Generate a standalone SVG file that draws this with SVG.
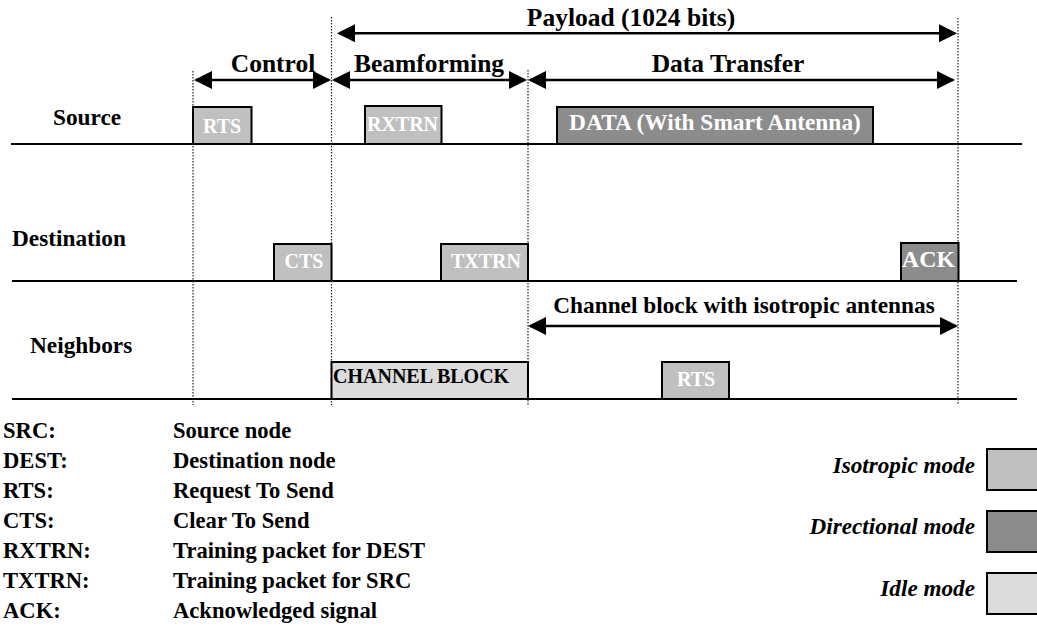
<svg xmlns="http://www.w3.org/2000/svg" width="1037" height="627" viewBox="0 0 1037 627">
<style>
  text { font-family: "Liberation Serif", "Times New Roman", serif; font-weight: bold; }
  .hdr { font-size: 25.5px; fill: #000; }
  .side { font-size: 23.3px; fill: #000; }
  .leg { font-size: 22.6px; fill: #000; }
  .mode { font-size: 23.2px; font-style: italic; fill: #000; text-anchor: end; }
  .pkt { font-size: 20px; fill: #fff; text-anchor: middle; }
  .box { stroke: #000; stroke-width: 2; }
  .iso { fill: #c0c0c0; }
  .dir { fill: #8c8c8c; }
  .idle { fill: #dcdcdc; }
  .lane { stroke: #000; stroke-width: 2; fill: none; }
  .dot { stroke: #222; stroke-width: 1.2; stroke-dasharray: 1.5 1.5; fill: none; }
  .arr { stroke: #000; stroke-width: 2.6; fill: none; marker-start: url(#ah); marker-end: url(#ah); }
</style>
<defs>
  <marker id="ah" markerUnits="userSpaceOnUse" markerWidth="18" markerHeight="18" viewBox="0 0 18 18" refX="16" refY="9" orient="auto-start-reverse">
    <path d="M0,0 L18,9 L0,18 z" fill="#000"/>
  </marker>
</defs>
<rect width="1037" height="627" fill="#fff"/>

<g id="lanes">
  <line class="lane" x1="11" y1="144" x2="1022" y2="144"/>
  <line class="lane" x1="12" y1="281" x2="1017" y2="281"/>
  <line class="lane" x1="12" y1="399" x2="1017" y2="399"/>
</g>

<g id="connectors">
  <line class="dot" x1="193" y1="71" x2="193" y2="405"/>
  <line class="dot" x1="331.5" y1="17" x2="331.5" y2="405"/>
  <line class="dot" x1="528" y1="70" x2="528" y2="405"/>
  <line class="dot" x1="958" y1="18" x2="958" y2="405"/>
  <line class="arr" x1="339" y1="33.3" x2="955" y2="33.3"/>
  <line class="arr" x1="196" y1="80" x2="329" y2="80"/>
  <line class="arr" x1="334" y1="80" x2="525" y2="80"/>
  <line class="arr" x1="530" y1="80" x2="953" y2="80"/>
  <line class="arr" x1="530" y1="326" x2="956" y2="326"/>
</g>

<g id="labels">
  <text class="hdr" x="631" y="26" text-anchor="middle">Payload (1024 bits)</text>
  <text class="hdr" x="273" y="72" text-anchor="middle">Control</text>
  <text class="hdr" x="429" y="72" text-anchor="middle">Beamforming</text>
  <text class="hdr" x="728" y="72" text-anchor="middle">Data Transfer</text>
  <text class="side" x="744" y="313" text-anchor="middle">Channel block with isotropic antennas</text>
  <text class="side" x="53" y="125">Source</text>
  <text class="side" x="12" y="246">Destination</text>
  <text class="side" x="30" y="352.6">Neighbors</text>
</g>

<g id="src-rts"><rect class="box iso" x="193" y="107" width="58.5" height="37"/><text class="pkt" x="222" y="133.3">RTS</text></g>
<g id="src-rxtrn"><rect class="box iso" x="365" y="106" width="76.5" height="38"/><text class="pkt" x="402.5" y="131">RXTRN</text></g>
<g id="src-data"><rect class="box dir" x="557" y="107" width="316" height="37"/><text class="pkt" x="715" y="130" style="font-size:23.4px">DATA (With Smart Antenna)</text></g>
<g id="dst-cts"><rect class="box iso" x="274" y="244" width="57.5" height="37"/><text class="pkt" x="304" y="268">CTS</text></g>
<g id="dst-txtrn"><rect class="box iso" x="441" y="244" width="87" height="37"/><text class="pkt" x="486" y="268">TXTRN</text></g>
<g id="dst-ack"><rect class="box dir" x="901" y="243" width="57.5" height="38"/><text class="pkt" x="928.5" y="266.7" style="font-size:24px">ACK</text></g>
<g id="nbr-block"><rect class="box idle" x="331.5" y="362" width="196.5" height="37"/><text class="pkt" x="333" y="382.5" style="fill:#000;text-anchor:start">CHANNEL BLOCK</text></g>
<g id="nbr-rts"><rect class="box iso" x="662" y="362" width="67" height="37"/><text class="pkt" x="696" y="386">RTS</text></g>

<g id="legend">
  <text class="leg" x="3" y="438">SRC:</text><text class="leg" x="173" y="438">Source node</text>
  <text class="leg" x="3" y="468">DEST:</text><text class="leg" x="173" y="468">Destination node</text>
  <text class="leg" x="3" y="498">RTS:</text><text class="leg" x="173" y="498">Request To Send</text>
  <text class="leg" x="3" y="528">CTS:</text><text class="leg" x="173" y="528">Clear To Send</text>
  <text class="leg" x="3" y="558">RXTRN:</text><text class="leg" x="173" y="558">Training packet for DEST</text>
  <text class="leg" x="3" y="588">TXTRN:</text><text class="leg" x="173" y="588">Training packet for SRC</text>
  <text class="leg" x="3" y="618">ACK:</text><text class="leg" x="173" y="618">Acknowledged signal</text>
</g>

<g id="mode-legend">
  <text class="mode" x="975" y="473">Isotropic mode</text>
  <rect class="box iso" x="987" y="449" width="60" height="41"/>
  <text class="mode" x="975" y="534">Directional mode</text>
  <rect class="box dir" x="987" y="511" width="60" height="41"/>
  <text class="mode" x="975" y="596">Idle mode</text>
  <rect class="box idle" x="987" y="573" width="60" height="41"/>
</g>
</svg>
